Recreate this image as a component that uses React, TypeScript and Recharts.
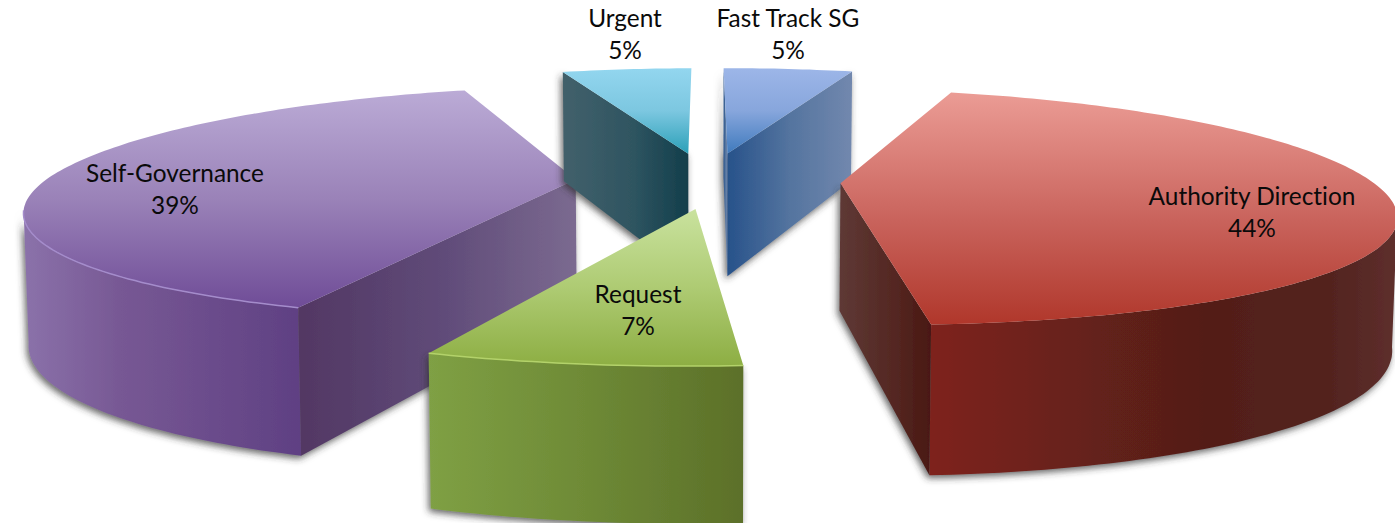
import { Pie, PieChart } from "recharts";

// slice order starts at Self-Governance so that Request paints last, as in the picture
const names = ["Self-Governance", "Urgent", "Fast Track SG", "Authority Direction", "Request"];
const shares = [39, 5, 5, 44, 7];

const data = names.map((name, i) => ({ name, value: shares[i] }));

const PERSPECTIVE_X = 0.23;
const PERSPECTIVE_Y = 0.2;
const FLATTEN = 112 / 530;
const EXPLODE = 0.25;
const CAMERA_Y = 5;
const BACK_SHIFT = 22;

const rad = (d: number) => (d * Math.PI) / 180;

type Stops = [number, string][];
type Look = { top: Stops; outer: Stops; side: Stops; rim: string; nudge?: number };

const looks: Record<string, Look> = {
  "Self-Governance": {
    top: [[0, "#BBABD6"], [0.5, "#9A82B8"], [1, "#6F4C97"]],
    outer: [[0, "#8B72AA"], [0.35, "#775894"], [1, "#5F4083"]],
    side: [[0, "#523763"], [0.5, "#5F4A78"], [1, "#7B6A90"]],
    rim: "#A48CCB",
  },
  Urgent: {
    top: [[0, "#93D6EF"], [0.5, "#7CC7E0"], [1, "#2BA0B8"]],
    outer: [[0, "#42606B"], [1, "#133E4B"]],
    side: [[0, "#42606B"], [0.55, "#2F5561"], [1, "#133E4B"]],
    rim: "none",
  },
  "Fast Track SG": {
    top: [[0, "#9DB6E8"], [0.5, "#87A6DC"], [1, "#3F7ABD"]],
    outer: [[0, "#27528A"], [1, "#7288AE"]],
    side: [[0, "#27528A"], [0.5, "#54749F"], [1, "#7288AE"]],
    rim: "none",
  },
  "Authority Direction": {
    top: [[0, "#EB9C95"], [0.55, "#C9635C"], [1, "#B0372B"]],
    outer: [[0, "#7E241D"], [0.6, "#521E18"], [0.85, "#52231E"], [1, "#5E2F2D"]],
    side: [[0, "#5E3935"], [0.6, "#542722"], [1, "#4A1812"]],
    rim: "none",
  },
  Request: {
    top: [[0, "#C9E29E"], [0.5, "#AECB73"], [1, "#8DAE43"]],
    outer: [[0, "#7FA044"], [0.5, "#6E8A36"], [1, "#5C7029"]],
    side: [[0, "#5C7029"], [1, "#5C7029"]],
    rim: "#B3D26A",
    nudge: 8,
  },
};

const labelSpots: Record<string, [number, number]> = {
  "Self-Governance": [175, 182],
  Urgent: [625, 27],
  "Fast Track SG": [788, 27],
  "Authority Direction": [1252, 205],
  Request: [638, 303],
};

function Gradient({ id, stops, vertical }: { id: string; stops: Stops; vertical?: boolean }) {
  return (
    <linearGradient id={id} x1="0" y1="0" x2={vertical ? 0 : 1} y2={vertical ? 1 : 0}>
      {stops.map(([o, c]) => (
        <stop key={o} offset={o} stopColor={c} />
      ))}
    </linearGradient>
  );
}

function Slice3D(props: any) {
  const { cx, cy, outerRadius, startAngle, endAngle, name } = props;
  const look = looks[name];
  const key = name.replace(/\W/g, "");
  const t1 = 90 - startAngle;
  const t2 = 90 - endAngle;
  const mid = rad((t1 + t2) / 2);
  const cX = EXPLODE * Math.sin(mid);
  const cY = -EXPLODE * Math.cos(mid);
  const nudge = look.nudge ?? 0;

  // disc coords -> screen, nearer points are scaled up
  const project = (x: number, y: number) => {
    const s = 1 / (1 - PERSPECTIVE_Y * y);
    const sx = 1 / (1 - PERSPECTIVE_X * y);
    const back = BACK_SHIFT * Math.max(0, 1 - sx);
    return { x: cx + nudge + back + outerRadius * x * sx, y: cy + outerRadius * FLATTEN * y * s, s };
  };
  const drop = (p: { x: number; y: number; s: number }) => ({
    x: cx + (p.x - cx) * 0.9925,
    y: p.y + 35 + 92 * p.s,
    s: p.s,
  });
  const rimAt = (t: number) => project(cX + Math.sin(rad(t)), cY - Math.cos(rad(t)));
  const d = (pts: { x: number; y: number }[]) =>
    pts.map((p, i) => `${i ? "L" : "M"}${p.x.toFixed(1)} ${p.y.toFixed(1)}`).join(" ") + " Z";

  const center = project(cX, cY);
  const rim: { x: number; y: number; s: number }[] = [];
  const front: { x: number; y: number; s: number }[] = [];
  const steps = Math.ceil(t2 - t1);
  for (let i = 0; i <= steps; i++) {
    const t = t1 + ((t2 - t1) * i) / steps;
    const p = rimAt(t);
    rim.push(p);
    const wx = cX + Math.sin(rad(t));
    const wy = cY - Math.cos(rad(t));
    // outer wall faces the camera only on this part of the rim
    if (Math.sin(rad(t)) * -wx + -Math.cos(rad(t)) * (CAMERA_Y - wy) > 0) front.push(p);
  }

  const sideVisible = (t: number, sign: number) =>
    sign * (Math.cos(rad(t)) * -cX + Math.sin(rad(t)) * (CAMERA_Y - cY)) > 0;
  const sides = [
    sideVisible(t1, -1) ? rimAt(t1) : null,
    sideVisible(t2, 1) ? rimAt(t2) : null,
  ].filter(Boolean) as { x: number; y: number; s: number }[];

  return (
    <g>
      <defs>
        <Gradient id={`top-${key}`} stops={look.top} vertical />
        <Gradient id={`outer-${key}`} stops={look.outer} />
        <Gradient id={`side-${key}`} stops={look.side} />
        <filter id={`sh-${key}`} filterUnits="userSpaceOnUse" x="0" y="0" width="1395" height="523">
          <feDropShadow dx="-2" dy="3" stdDeviation="3.5" floodColor="#333" floodOpacity="0.75" />
        </filter>
      </defs>
      <g filter={`url(#sh-${key})`}>
        {front.length > 1 && <path d={d([...front, ...front.map(drop).reverse()])} fill={`url(#outer-${key})`} />}
        {sides.map((p, i) => (
          <path key={i} d={d([center, p, drop(p), drop(center)])} fill={`url(#side-${key})`} />
        ))}
      </g>
      <path d={d([center, ...rim])} fill={`url(#top-${key})`} />
      {look.rim !== "none" && front.length > 1 && (
        <path d={d(front).replace(" Z", "")} fill="none" stroke={look.rim} strokeWidth={1.5} />
      )}
    </g>
  );
}

function SliceLabel(props: any) {
  const { name, value } = props;
  const [x, y] = labelSpots[name];
  return (
    <text
      x={x}
      y={y}
      textAnchor="middle"
      fontFamily="Lato"
      fontSize={24.4}
      fill="#0a0a0a"
      style={{ fontVariantLigatures: "none" }}
    >
      <tspan x={x}>{name}</tspan>
      <tspan x={x} dy={32}>{`${value}%`}</tspan>
    </text>
  );
}

export default function App() {
  return (
    <div style={{ position: "absolute", left: 0, top: 0, width: 1395, height: 523, overflow: "hidden", background: "#fff" }}>
      <PieChart width={1395} height={523} margin={{ top: 0, right: 0, bottom: 0, left: 0 }}>
        <Pie
          data={data}
          dataKey="value"
          nameKey="name"
          cx={708}
          cy={180}
          outerRadius={530}
          startAngle={-111}
          endAngle={-471}
          stroke="none"
          shape={Slice3D}
          label={SliceLabel}
          labelLine={false}
          isAnimationActive={false}
        />
      </PieChart>
    </div>
  );
}
